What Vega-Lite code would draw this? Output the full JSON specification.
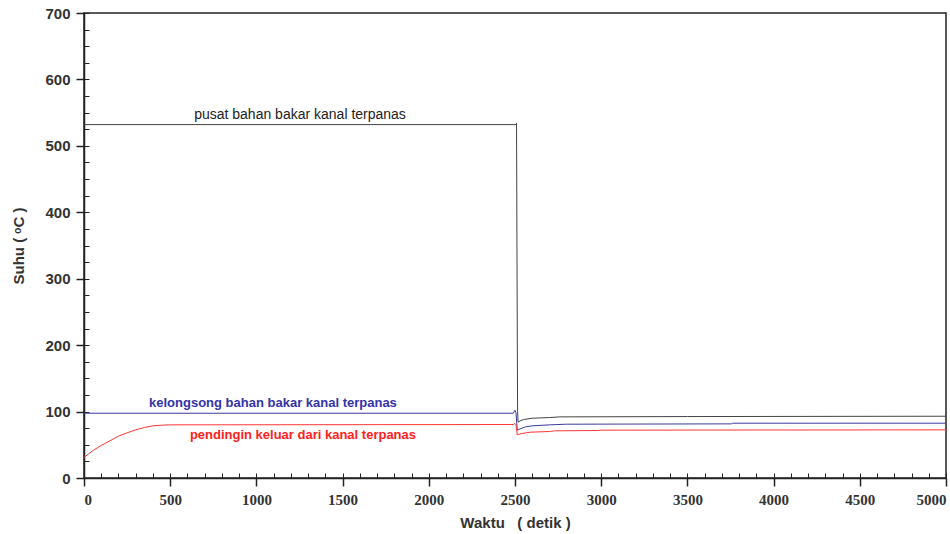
{
  "$schema": "https://vega.github.io/schema/vega-lite/v6.json",
  "width": 862,
  "height": 465,
  "autosize": "none",
  "padding": {"left": 84, "top": 13, "right": 4, "bottom": 56},
  "background": "white",
  "config": {
    "view": {"stroke": "#222", "strokeWidth": 1.5},
    "font": "Liberation Sans"
  },
  "datasets": {
    "lines": [
      {"t": 0, "v": 532, "s": "pusat"},
      {"t": 2505, "v": 532, "s": "pusat"},
      {"t": 2509, "v": 534, "s": "pusat"},
      {"t": 2512, "v": 300, "s": "pusat"},
      {"t": 2515, "v": 100, "s": "pusat"},
      {"t": 2518, "v": 84, "s": "pusat"},
      {"t": 2530, "v": 86, "s": "pusat"},
      {"t": 2550, "v": 88, "s": "pusat"},
      {"t": 2600, "v": 90, "s": "pusat"},
      {"t": 2700, "v": 91, "s": "pusat"},
      {"t": 2760, "v": 92, "s": "pusat"},
      {"t": 3500, "v": 92.5, "s": "pusat"},
      {"t": 5000, "v": 93, "s": "pusat"},
      {"t": 0, "v": 97.5, "s": "kelongsong"},
      {"t": 2490, "v": 97.5, "s": "kelongsong"},
      {"t": 2500, "v": 102, "s": "kelongsong"},
      {"t": 2506, "v": 98, "s": "kelongsong"},
      {"t": 2513, "v": 72, "s": "kelongsong"},
      {"t": 2530, "v": 74, "s": "kelongsong"},
      {"t": 2560, "v": 77, "s": "kelongsong"},
      {"t": 2600, "v": 78.5, "s": "kelongsong"},
      {"t": 2700, "v": 80, "s": "kelongsong"},
      {"t": 2800, "v": 81, "s": "kelongsong"},
      {"t": 3755, "v": 81.5, "s": "kelongsong"},
      {"t": 3760, "v": 82.5, "s": "kelongsong"},
      {"t": 5000, "v": 82.5, "s": "kelongsong"},
      {"t": 0, "v": 31, "s": "pendingin"},
      {"t": 25, "v": 36, "s": "pendingin"},
      {"t": 50, "v": 41, "s": "pendingin"},
      {"t": 100, "v": 49, "s": "pendingin"},
      {"t": 150, "v": 56, "s": "pendingin"},
      {"t": 200, "v": 63, "s": "pendingin"},
      {"t": 250, "v": 68, "s": "pendingin"},
      {"t": 300, "v": 72.5, "s": "pendingin"},
      {"t": 350, "v": 76, "s": "pendingin"},
      {"t": 400, "v": 78.5, "s": "pendingin"},
      {"t": 450, "v": 79.5, "s": "pendingin"},
      {"t": 500, "v": 80, "s": "pendingin"},
      {"t": 2490, "v": 80.5, "s": "pendingin"},
      {"t": 2500, "v": 82, "s": "pendingin"},
      {"t": 2506, "v": 80, "s": "pendingin"},
      {"t": 2513, "v": 65, "s": "pendingin"},
      {"t": 2540, "v": 67, "s": "pendingin"},
      {"t": 2590, "v": 69, "s": "pendingin"},
      {"t": 2700, "v": 70, "s": "pendingin"},
      {"t": 2730, "v": 71, "s": "pendingin"},
      {"t": 2980, "v": 71.5, "s": "pendingin"},
      {"t": 3000, "v": 72, "s": "pendingin"},
      {"t": 5000, "v": 72.5, "s": "pendingin"}
    ],
    "labels": [
      {"t": 1253, "v": 547, "s": "pusat", "label": "pusat bahan bakar kanal terpanas"},
      {"t": 1096, "v": 113, "s": "kelongsong", "label": "kelongsong bahan bakar kanal terpanas"},
      {"t": 1270, "v": 65, "s": "pendingin", "label": "pendingin keluar dari kanal terpanas"}
    ]
  },
  "layer": [
    {
      "data": {"name": "lines"},
      "mark": {"type": "line", "strokeWidth": 1, "interpolate": "linear"},
      "encoding": {
        "x": {
          "field": "t", "type": "quantitative",
          "scale": {"domain": [0, 5000], "nice": false},
          "axis": {
            "values": [0, 500, 1000, 1500, 2000, 2500, 3000, 3500, 4000, 4500, 5000],
            "format": "d",
            "grid": false, "domainColor": "#222", "domainWidth": 1.5,
            "tickColor": "#222", "tickWidth": 1.5, "tickSize": 8,
            "labelFont": "Liberation Sans Narrow", "labelFontWeight": "bold", "labelFontSize": 15,
            "labelColor": "#333", "labelPadding": 6,
            "title": "Waktu\u00a0\u00a0\u00a0( detik )", "titleFont": "Liberation Sans", "titleFontSize": 15,
            "titleFontWeight": "bold", "titleColor": "#333", "titlePadding": 8
          }
        },
        "y": {
          "field": "v", "type": "quantitative",
          "scale": {"domain": [0, 700], "nice": false},
          "axis": {
            "values": [0, 100, 200, 300, 400, 500, 600, 700],
            "grid": false, "domainColor": "#222", "domainWidth": 1.5,
            "tickColor": "#222", "tickWidth": 1.5, "tickSize": 8,
            "labelFont": "Liberation Sans", "labelFontWeight": "bold", "labelFontSize": 15,
            "labelColor": "#333", "labelPadding": 6,
            "title": "Suhu ( ᵒC )", "titleFont": "Liberation Sans", "titleFontSize": 15,
            "titleFontWeight": "bold", "titleColor": "#333", "titlePadding": 18
          }
        },
        "color": {
          "field": "s", "type": "nominal",
          "scale": {"domain": ["pusat", "kelongsong", "pendingin"], "range": ["#444444", "#3a3a9a", "#ff3535"]},
          "legend": null
        },
        "order": {"field": "t", "type": "quantitative"}
      }
    },
    {
      "data": {"name": "lines"},
      "mark": {"type": "point", "opacity": 0},
      "encoding": {
        "x": {
          "field": "t", "type": "quantitative",
          "axis": {
            "orient": "bottom",
            "values": [0,100,200,300,400,500,600,700,800,900,1000,1100,1200,1300,1400,1500,1600,1700,1800,1900,2000,2100,2200,2300,2400,2500,2600,2700,2800,2900,3000,3100,3200,3300,3400,3500,3600,3700,3800,3900,4000,4100,4200,4300,4400,4500,4600,4700,4800,4900,5000],
            "labels": false, "domain": false, "grid": false, "title": null,
            "tickColor": "#222", "tickWidth": 1, "tickSize": -5
          }
        },
        "y": {
          "field": "v", "type": "quantitative",
          "axis": {
            "orient": "left",
            "values": [0,25,50,75,100,125,150,175,200,225,250,275,300,325,350,375,400,425,450,475,500,525,550,575,600,625,650,675,700],
            "labels": false, "domain": false, "grid": false, "title": null,
            "tickColor": "#222", "tickWidth": 1, "tickSize": -5
          }
        }
      }
    },
    {
      "data": {"name": "labels"},
      "transform": [{"filter": "datum.s == 'pusat'"}],
      "mark": {"type": "text", "font": "Liberation Sans", "fontSize": 14, "align": "center", "baseline": "middle", "color": "#222222"},
      "encoding": {
        "x": {"field": "t", "type": "quantitative", "axis": null},
        "y": {"field": "v", "type": "quantitative", "axis": null},
        "text": {"field": "label"}
      }
    },
    {
      "data": {"name": "labels"},
      "transform": [{"filter": "datum.s != 'pusat'"}],
      "mark": {"type": "text", "font": "Liberation Sans", "fontSize": 13, "fontWeight": "bold", "align": "center", "baseline": "middle"},
      "encoding": {
        "x": {"field": "t", "type": "quantitative", "axis": null},
        "y": {"field": "v", "type": "quantitative", "axis": null},
        "text": {"field": "label"},
        "color": {
          "field": "s", "type": "nominal",
          "scale": {"domain": ["kelongsong", "pendingin"], "range": ["#3333aa", "#ff2020"]},
          "legend": null
        }
      }
    }
  ],
  "resolve": {"axis": {"x": "independent", "y": "independent"}, "scale": {"color": "independent"}}
}
